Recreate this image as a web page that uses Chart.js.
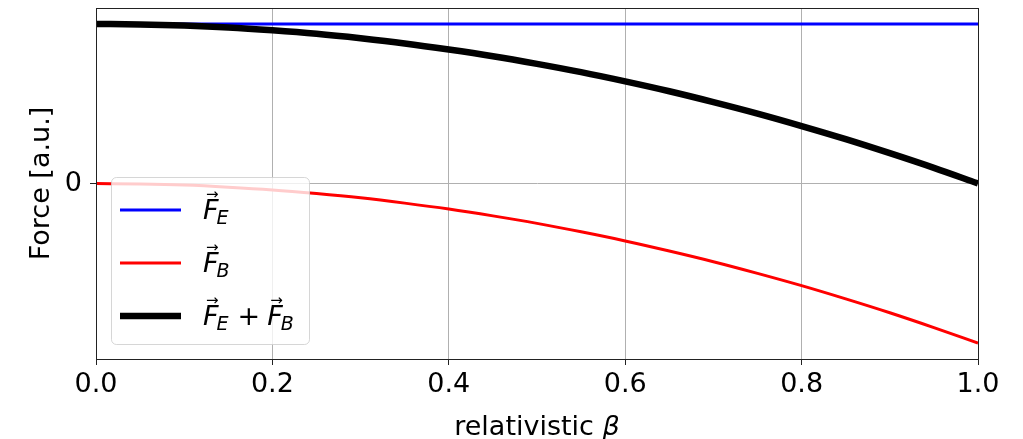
<!DOCTYPE html>
<html>
<head>
<meta charset="utf-8">
<script src="https://cdn.jsdelivr.net/npm/chart.js@4.4.1/dist/chart.umd.min.js"></script>
<style>
  html, body { margin: 0; padding: 0; background: #fff; }
  canvas { display: block; }
</style>
</head>
<body>
<canvas id="chart" width="1023" height="439"></canvas>
<script>
// relativistic beta samples
const beta = [0, 0.05, 0.1, 0.15, 0.2, 0.25, 0.3, 0.35, 0.4, 0.45, 0.5,
              0.55, 0.6, 0.65, 0.7, 0.75, 0.8, 0.85, 0.9, 0.95, 1.0];
// electric force (constant)
const forceE = [1, 1, 1, 1, 1, 1, 1, 1, 1, 1, 1,
                1, 1, 1, 1, 1, 1, 1, 1, 1, 1];
// magnetic force
const forceB = [0, -0.003, -0.01, -0.023, -0.04, -0.063, -0.09, -0.123, -0.16, -0.203, -0.25,
                -0.303, -0.36, -0.423, -0.49, -0.563, -0.64, -0.723, -0.81, -0.903, -1.0];
// total force
const forceSum = [1, 0.997, 0.99, 0.978, 0.96, 0.938, 0.91, 0.878, 0.84, 0.798, 0.75,
                  0.698, 0.64, 0.578, 0.51, 0.438, 0.36, 0.278, 0.19, 0.098, 0];
const xTicks = [0, 0.2, 0.4, 0.6, 0.8, 1.0];
const yTicks = [0];

const FONT = 'DejaVu Sans';
const pts = arr => arr.map((v, i) => ({ x: beta[i], y: v }));

// legend entries: subscripts per vector term
const legendItems = [
  { color: '#0000ff', width: 3, terms: ['E'] },
  { color: '#ff0000', width: 3, terms: ['B'] },
  { color: '#000000', width: 6.5, terms: ['E', 'B'] }
];

function drawVecF(ctx, x, baseline, sub) {
  ctx.font = 'italic 27px ' + FONT;
  ctx.textBaseline = 'alphabetic';
  ctx.textAlign = 'left';
  ctx.fillText('F', x, baseline);
  const fw = ctx.measureText('F').width;
  // arrow over F
  ctx.font = '15px ' + FONT;
  ctx.fillText('\u2192', x + 3, baseline - 20);
  ctx.font = 'italic 19px ' + FONT;
  ctx.fillText(sub, x + fw - 2, baseline + 5);
  return x + fw - 2 + ctx.measureText(sub).width;
}

const framePlugin = {
  id: 'frame',
  afterDatasetsDraw(chart) {
    const { ctx, chartArea: a } = chart;
    ctx.save();
    ctx.strokeStyle = '#222';
    ctx.lineWidth = 1;
    ctx.strokeRect(Math.round(a.left) + 0.5, Math.round(a.top) + 0.5,
                   Math.round(a.right - a.left), Math.round(a.bottom - a.top));

    // x axis title: upright text with italic beta
    ctx.fillStyle = '#000';
    ctx.textBaseline = 'alphabetic';
    ctx.textAlign = 'left';
    ctx.font = '27px ' + FONT;
    const t1 = 'relativistic ';
    const w1 = ctx.measureText(t1).width;
    ctx.font = 'italic 27px ' + FONT;
    const w2 = ctx.measureText('\u03b2').width;
    const tx = (a.left + a.right) / 2 - (w1 + w2) / 2;
    ctx.font = '27px ' + FONT;
    ctx.fillText(t1, tx, 435);
    ctx.font = 'italic 27px ' + FONT;
    ctx.fillText('\u03b2', tx + w1, 435);

    // legend box
    const bx = 111, by = 177, bw = 198, bh = 167, r = 5;
    ctx.beginPath();
    ctx.roundRect(bx + 0.5, by + 0.5, bw, bh, r);
    ctx.fillStyle = 'rgba(255,255,255,0.8)';
    ctx.fill();
    ctx.strokeStyle = 'rgba(204,204,204,0.8)';
    ctx.lineWidth = 1;
    ctx.stroke();

    const rowY = [210, 263, 316];
    legendItems.forEach((it, i) => {
      const y = rowY[i];
      ctx.beginPath();
      ctx.moveTo(120, y);
      ctx.lineTo(181, y);
      ctx.strokeStyle = it.color;
      ctx.lineWidth = it.width;
      ctx.stroke();
      ctx.fillStyle = '#000';
      let x = 203;
      const base = y + 9;
      it.terms.forEach((t, k) => {
        if (k > 0) {
          ctx.font = '27px ' + FONT;
          ctx.textBaseline = 'alphabetic';
          ctx.fillText('+', x + 9, base);
          x += 9 + ctx.measureText('+').width + 7;
        }
        x = drawVecF(ctx, x, base, t);
      });
    });
    ctx.restore();
  }
};

new Chart(document.getElementById('chart'), {
  type: 'line',
  data: {
    datasets: [
      { label: 'F_E + F_B', data: pts(forceSum), borderColor: '#000000', borderWidth: 6.5, order: 0 },
      { label: 'F_B', data: pts(forceB), borderColor: '#ff0000', borderWidth: 3, order: 1 },
      { label: 'F_E', data: pts(forceE), borderColor: '#0000ff', borderWidth: 3, order: 2 }
    ]
  },
  options: {
    responsive: false,
    devicePixelRatio: 1,
    animation: false,
    layout: { padding: { left: 0, top: 8, right: 45, bottom: 0 } },
    elements: {
      point: { radius: 0 },
      line: { cubicInterpolationMode: 'monotone', fill: false, borderCapStyle: 'butt' }
    },
    datasets: { line: { clip: 0 } },
    plugins: { legend: { display: false }, tooltip: { enabled: false } },
    scales: {
      x: {
        type: 'linear',
        min: 0, max: 1,
        afterBuildTicks: s => { s.ticks = xTicks.map(v => ({ value: v })); },
        afterFit: s => { s.height = 80; },
        grid: { color: '#b0b0b0', lineWidth: 1, tickColor: '#222', tickLength: 6 },
        border: { color: '#222', width: 1 },
        ticks: {
          color: '#000', font: { family: FONT, size: 27 }, padding: 4, maxRotation: 0,
          callback: v => v.toFixed(1)
        },
        title: { display: false }
      },
      y: {
        type: 'linear',
        min: -1.1, max: 1.1,
        afterBuildTicks: s => { s.ticks = yTicks.map(v => ({ value: v })); },
        afterFit: s => { s.width = 96; s.paddingTop = 0; s.paddingBottom = 0; },
        grid: { color: '#b0b0b0', lineWidth: 1, tickColor: '#222', tickLength: 6 },
        border: { color: '#222', width: 1 },
        ticks: { color: '#000', font: { family: FONT, size: 27 }, padding: 8 },
        title: {
          display: true, text: 'Force [a.u.]', color: '#000',
          font: { family: FONT, size: 27, lineHeight: 1.2 }, padding: { top: 26, bottom: 0 }
        }
      }
    }
  },
  plugins: [framePlugin]
});
</script>
</body>
</html>
